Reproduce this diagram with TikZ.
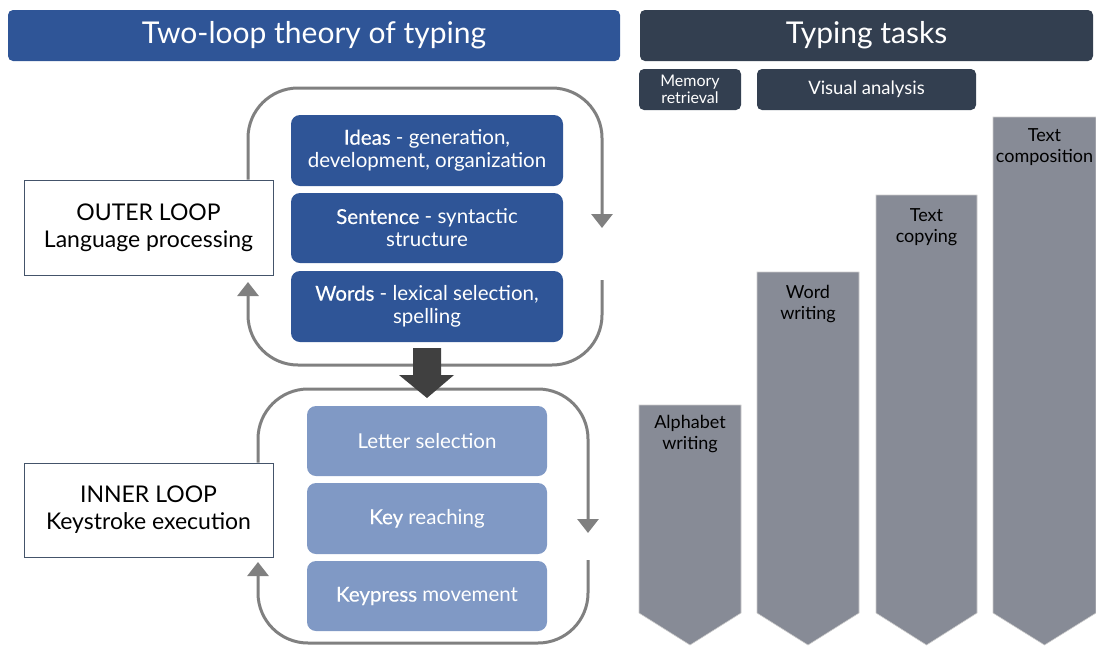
\documentclass[tikz,border=0pt]{standalone}
\usepackage{fontspec}
\setmainfont{Lato}
\newfontfamily\semib[FakeBold=0.3]{Lato}
\usetikzlibrary{arrows.meta}

\definecolor{titleblue}{HTML}{2F5597}
\definecolor{taskdark}{HTML}{333F50}
\definecolor{lightblue}{HTML}{8099C5}
\definecolor{bargray}{HTML}{878B96}
\definecolor{loopgray}{HTML}{808080}
\definecolor{bigarrow}{HTML}{404040}
\definecolor{frameblue}{HTML}{44546A}

\begin{document}
\begin{tikzpicture}[x=1pt,y=-1pt,
  header/.style={fill=#1,rounded corners=5pt,text=white,inner sep=0pt,minimum height=51pt,font=\fontsize{30}{34}\selectfont},
  taskbox/.style={fill=taskdark,rounded corners=5pt,text=white,inner sep=0pt,minimum height=41pt,align=center},
  bluebox/.style={fill=titleblue,rounded corners=9pt,text=white,inner sep=0pt,minimum width=272pt,minimum height=71pt,align=center,font=\fontsize{20.5}{23}\selectfont},
  lightbox/.style={fill=lightblue,rounded corners=9pt,text=white,inner sep=0pt,minimum width=240pt,minimum height=70pt,align=center,font=\fontsize{20.5}{23}\selectfont},
  loopbox/.style={draw=frameblue,line width=1pt,fill=white,inner sep=0pt,minimum width=249pt,minimum height=95pt,align=center,font=\fontsize{23}{27}\selectfont},
  loopline/.style={draw=loopgray,line width=3pt,rounded corners=50pt,-{Triangle[width=21pt,length=14pt]}},
  bar/.style={fill=bargray,draw=gray!40,line width=0.6pt},
  barlabel/.style={align=center,inner sep=0pt,font=\fontsize{18}{21}\selectfont}]

\useasboundingbox (0,0) rectangle (1096,646);

% headers
\node[header=titleblue,minimum width=612pt](theory)at(314,35.5){Two-loop theory of typing};
\node[header=taskdark,minimum width=453pt](tasks)at(866.5,35.5){Typing tasks};
\node[taskbox,minimum width=102pt,font=\fontsize{16}{17}\selectfont](memory)at(690,89.5){Memory\\retrieval};
\node[taskbox,minimum width=219pt,font=\fontsize{18.5}{20}\selectfont](visual)at(866.5,89.5){Visual analysis};

% outer loop
\coordinate(oL)at(248,0);
\coordinate(oR)at(602,0);
\node[loopbox](outer)at(148.5,227.5){OUTER LOOP\\Language processing};
\draw[loopline](oL |- outer.north)--(248,88)--(602,88)--(602,228);
\draw[loopline](602,280)--(602,365)--(248,365)--(248,282);

\node[bluebox](ideas)at(427,150.5){{\semib Ideas} - generation,\\development, organization};
\node[bluebox,minimum height=70pt](sentence)at(427,228){{\semib Sentence} - syntactic\\structure};
\node[bluebox](words)at(427,306.5){{\semib Words} - lexical selection,\\spelling};

% inner loop
\node[loopbox,minimum height=94pt](inner)at(148.5,510){INNER LOOP\\Keystroke execution};
\draw[loopline](258,0 |- inner.north)--(258,389)--(588,389)--(588,533);
\draw[loopline](588,560)--(588,643)--(258,643)--(258,562);

\node[lightbox](letter)at(427,441){Letter selection};
\node[lightbox,minimum height=71pt](key)at(427,518.5){{\semib Key} reaching};
\node[lightbox](press)at(427,596){{\semib Keypress} movement};

\fill[bigarrow](413,348)--(441,348)--(441,375)--(454,375)--(427,398)--(399,375)--(413,375)--cycle;

% task bars
\draw[bar](639,405)--(741,405)--(741,613)--(690,645)--(639,613)--cycle;
\draw[bar](757,272)--(859,272)--(859,613)--(808,645)--(757,613)--cycle;
\draw[bar](876,195)--(977,195)--(977,613)--(926.5,645)--(876,613)--cycle;
\draw[bar](993,117)--(1096,117)--(1096,613)--(1044.5,645)--(993,613)--cycle;

\node[barlabel](alpha)at(690,434){Alphabet\\writing};
\node[barlabel](wordw)at(808,304){Word\\writing};
\node[barlabel](copy)at(926.5,227.5){Text\\copying};
\node[barlabel](compo)at(1044.5,147){Text\\composition};
\end{tikzpicture}
\end{document}
